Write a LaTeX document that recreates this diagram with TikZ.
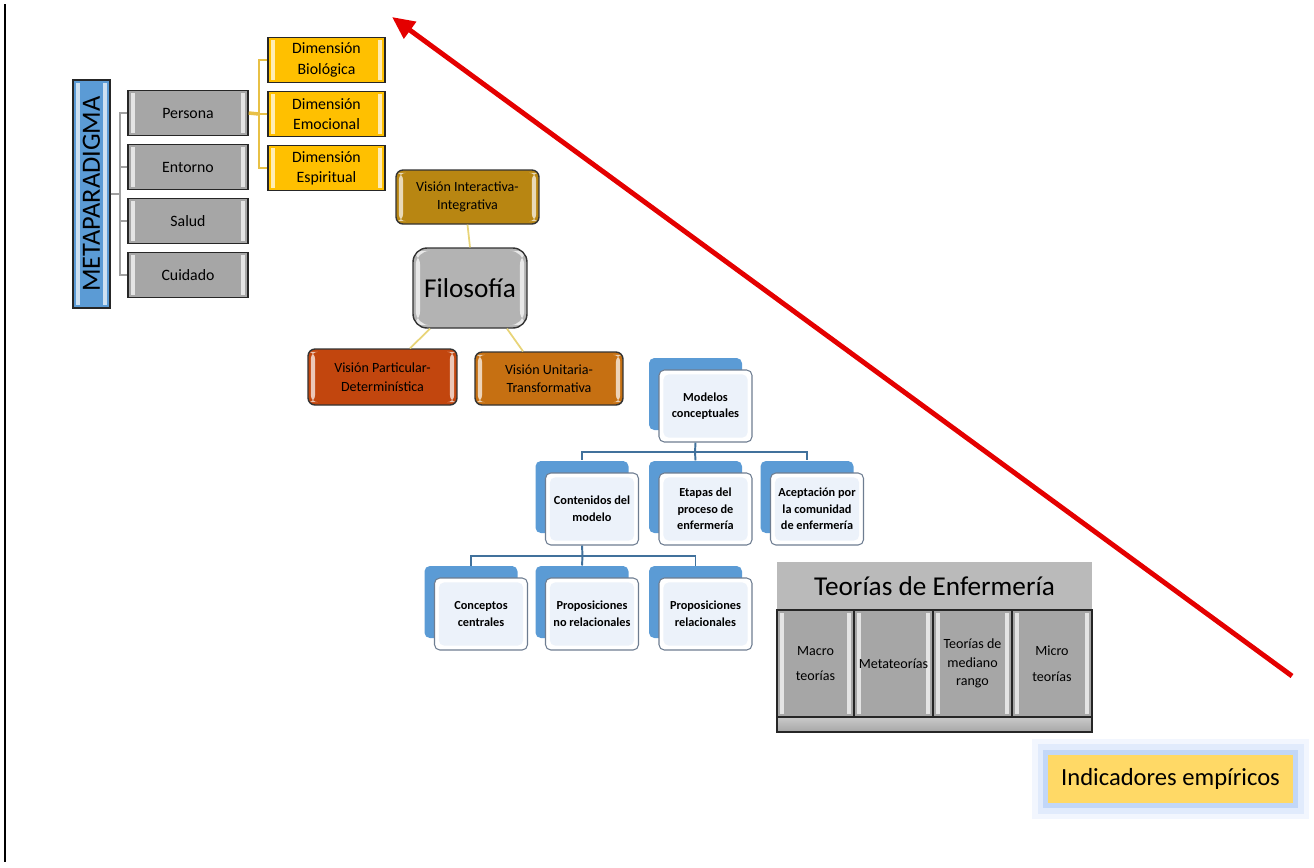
\documentclass[tikz,border=0pt]{standalone}
\usepackage{fontspec}
\setmainfont{Carlito}
\usetikzlibrary{arrows.meta,shadows}

\definecolor{boxgray}{RGB}{166,166,166}
\definecolor{titlegray}{RGB}{186,186,186}
\definecolor{metablue}{RGB}{91,155,213}
\definecolor{dimyellow}{RGB}{255,192,0}
\definecolor{intbrown}{RGB}{184,134,18}
\definecolor{partred}{RGB}{194,70,14}
\definecolor{unitorange}{RGB}{198,112,18}
\definecolor{tabblue}{RGB}{91,155,213}
\definecolor{modline}{RGB}{65,113,156}
\definecolor{modframe}{RGB}{110,125,145}
\definecolor{modfill}{RGB}{236,242,250}
\definecolor{indyellow}{RGB}{255,217,102}
\definecolor{glowblue}{RGB}{120,165,240}
\definecolor{arrowred}{RGB}{228,0,0}
\definecolor{metaline}{RGB}{160,160,160}
\definecolor{dimline}{RGB}{232,192,70}
\definecolor{filoline}{RGB}{232,212,120}

\tikzset{
  bevel/.style={path picture={
    \fill[white,opacity=.7] ([shift={(1.6pt,1.6pt)}]path picture bounding box.south west) rectangle ([shift={(4pt,-1.6pt)}]path picture bounding box.north west);
    \fill[white,opacity=.7] ([shift={(-1.6pt,1.6pt)}]path picture bounding box.south east) rectangle ([shift={(-4pt,-1.6pt)}]path picture bounding box.north east);}},
  graybox/.style={draw=black!85, line width=0.8pt, fill=boxgray, bevel, minimum width=2.4cm, minimum height=0.9cm, inner sep=1pt, align=center, font=\fontsize{9}{11.5}\selectfont},
  dimbox/.style={graybox, fill=dimyellow, minimum width=2.34cm},
  visbox/.style={draw=black!80, line width=0.8pt, rounded corners=4pt, bevel, inner sep=1pt, align=center, font=\fontsize{8}{10.5}\selectfont},
  modbox/.style={draw=modframe, line width=0.6pt, fill=white, rounded corners=3pt, minimum width=1.86cm, minimum height=1.44cm, inner sep=1pt, align=center, font=\bfseries\fontsize{7}{9.5}\selectfont,
    general shadow={shadow xshift=-0.2cm, shadow yshift=0.24cm, fill=tabblue},
    path picture={\fill[modfill] ([shift={(2.5pt,2.5pt)}]path picture bounding box.south west) rectangle ([shift={(-2.5pt,-2.5pt)}]path picture bounding box.north east);}},
  teobox/.style={graybox, minimum height=2.14cm, font=\fontsize{8}{10.5}\selectfont},
  metaconn/.style={draw=metaline, line width=1.2pt},
  dimconn/.style={draw=dimline, line width=1pt},
  filoconn/.style={draw=filoline, line width=1pt},
  modconn/.style={draw=modline, line width=1.1pt}
}

\begin{document}
\begin{tikzpicture}[x=0.02cm,y=-0.02cm]
\useasboundingbox (0,0) rectangle (1314,867);
% page rule on the left
\draw[line width=1pt] (5,4) -- (5,862);

% metaparadigma
\node[graybox, fill=metablue, minimum width=0.74cm, minimum height=4.56cm, font=\fontsize{15}{16}\selectfont] (meta) at (91.5,194) {\rotatebox{90}{METAPARADIGMA}};
\node[graybox] (persona) at (188,113) {Persona};
\node[graybox] (entorno) at (188,167) {Entorno};
\node[graybox] (salud) at (188,221) {Salud};
\node[graybox] (cuidado) at (188,275) {Cuidado};
\coordinate (mt) at (120,194);
\draw[metaconn] (meta.east) -- (mt);
\draw[metaconn] (persona.west) -| (mt) |- (cuidado.west);
\draw[metaconn] (entorno.west) -- (entorno.west -| mt);
\draw[metaconn] (salud.west) -- (salud.west -| mt);

\node[dimbox] (bio) at (326.5,60) {Dimensión\\Biológica};
\node[dimbox] (emo) at (326.5,114) {Dimensión\\Emocional};
\node[dimbox] (esp) at (326.5,168) {Dimensión\\Espiritual};
\coordinate (dt) at (259,114);
\draw[dimconn, line width=2pt] (persona.east) -- (dt);
\draw[dimconn] (bio.west) -| (dt) |- (esp.west);
\draw[dimconn] (emo.west) -- (dt);

% filosofia
\node[visbox, fill=intbrown, minimum width=2.86cm, minimum height=1.08cm] (inter) at (467.5,197) {Visión Interactiva-\\Integrativa};
\node[visbox, fill=boxgray!85, rounded corners=8pt, minimum width=2.28cm, minimum height=1.6cm, font=\fontsize{15.5}{17}\selectfont] (filo) at (470,288) {Filosofía};
\node[visbox, fill=partred, minimum width=2.98cm, minimum height=1.12cm] (part) at (382.5,377) {Visión Particular-\\Determinística};
\node[visbox, fill=unitorange, minimum width=2.96cm, minimum height=1.06cm] (unit) at (549,378.5) {Visión Unitaria-\\Transformativa};
\draw[filoconn] (inter.south) -- (filo.north);
\draw[filoconn] ([xshift=-0.8cm]filo.south) -- ([xshift=0.55cm]part.north);
\draw[filoconn] ([xshift=0.74cm]filo.south) -- ([xshift=-0.52cm]unit.north);

% modelos conceptuales
\node[modbox] (mod) at (705.5,406) {Modelos\\conceptuales};
\node[modbox] (cont) at (592,509) {Contenidos del\\modelo};
\node[modbox] (etap) at (705.5,509) {Etapas del\\proceso de\\enfermería};
\node[modbox] (acep) at (817,509) {Aceptación por\\la comunidad\\de enfermería};
\node[modbox] (conc) at (481,614) {Conceptos\\centrales};
\node[modbox] (pnr) at (592,614) {Proposiciones\\no relacionales};
\node[modbox] (prel) at (705.5,614) {Proposiciones\\relacionales};
\coordinate (bus1) at (695,452);
\draw[modconn] ([xshift=-0.2cm]mod.south) -- (bus1);
\draw[modconn] (bus1) -| ([shift={(-0.2cm,0.24cm)}]cont.north);
\draw[modconn] (bus1) -| ([shift={(-0.2cm,0.24cm)}]acep.north);
\draw[modconn] (bus1) -- ([shift={(-0.2cm,0.24cm)}]etap.north);
\coordinate (bus2) at (582.5,556);
\draw[modconn] ([xshift=-0.2cm]cont.south) -- (bus2);
\draw[modconn] (bus2) -| ([shift={(-0.2cm,0.24cm)}]conc.north);
\draw[modconn] (bus2) -| ([shift={(-0.2cm,0.24cm)}]prel.north);
\draw[modconn] (bus2) -- ([shift={(-0.2cm,0.24cm)}]pnr.north);

% teorias de enfermeria
\node[fill=titlegray, minimum width=6.3cm, minimum height=0.96cm, inner sep=0pt, font=\fontsize{15.5}{17}\selectfont] (teo) at (934.5,586) {Teorías de Enfermería};
\node[teobox, minimum width=1.54cm] (macro) at (815.5,663.5) {Macro\\[4pt]teorías};
\node[teobox, minimum width=1.58cm] (metat) at (893.5,663.5) {Metateorías};
\node[teobox, minimum width=1.58cm] (medio) at (972.5,663.5) {Teorías de\\mediano\\rango};
\node[teobox, minimum width=1.6cm] (micro) at (1052,663.5) {Micro\\[4pt]teorías};
\node[draw=black!85, line width=0.8pt, top color=boxgray!60, bottom color=boxgray, minimum width=6.3cm, minimum height=0.3cm, inner sep=0pt] (barra) at (934.5,724.5) {};

% indicadores
\node[fill=indyellow, minimum width=4.9cm, minimum height=0.96cm, inner sep=0pt, font=\fontsize{14}{16}\selectfont,
  preaction={draw=glowblue!10, line width=18pt, rounded corners=9pt},
  preaction={draw=glowblue!22, line width=12pt, rounded corners=6pt},
  preaction={draw=glowblue!45, line width=6pt, rounded corners=3pt}] (ind) at (1170.5,779) {Indicadores empíricos};

% flecha roja
\coordinate (arrtail) at (1292,676);
\coordinate (arrtip) at (392,17);
\draw[arrowred, line width=2.8pt, -{Triangle[length=0.45cm,width=0.4cm]}] (arrtail) -- (arrtip);
\end{tikzpicture}
\end{document}
